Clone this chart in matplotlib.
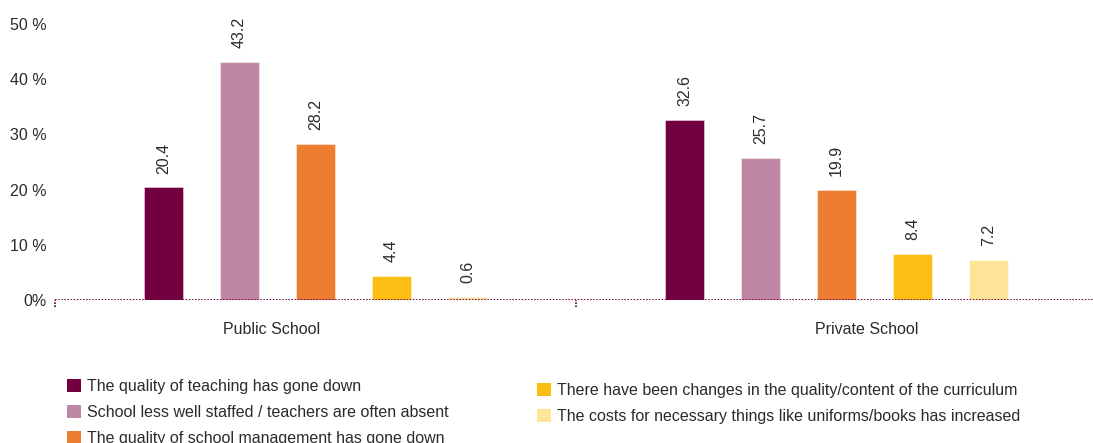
import matplotlib
matplotlib.use('Agg')
import matplotlib.pyplot as plt
import numpy as np
from matplotlib.patches import Patch

plt.rcParams['font.family'] = ['Liberation Sans', 'DejaVu Sans']

groups = ['Public School', 'Private School']
reasons = [
    'The quality of teaching has gone down',
    'School less well staffed / teachers are often absent',
    'The quality of school management has gone down',
    'There have been changes in the quality/content of the curriculum',
    'The costs for necessary things like uniforms/books has increased',
]
public_vals = [20.4, 43.2, 28.2, 4.4, 0.6]
private_vals = [32.6, 25.7, 19.9, 8.4, 7.2]
colors = ['#720041', '#C087A4', '#EC7D31', '#FDBE14', '#FEE497']
yticks = [0, 10, 20, 30, 40, 50]
ytick_labels = ['0%', '10 %', '20 %', '30 %', '40 %', '50 %']

txt = '#2b2b2b'
line_col = '#7A0A4A'

fig = plt.figure(figsize=(10.93, 4.43), dpi=100)
ax = fig.add_axes([55 / 1093, 143 / 443, 1038 / 1093, 276 / 443])

values = np.array([public_vals, private_vals])
step = 76 / 521
width = 39 / 521
centers = np.arange(len(groups))

for i, (reason, col) in enumerate(zip(reasons, colors)):
    xs = centers + (i - 2) * step
    bars = ax.bar(xs, values[:, i], width=width, color=col,
                  edgecolor=(1, 1, 1, 0.5), linewidth=0.6, label=reason, zorder=2)
    for b, v in zip(bars, values[:, i]):
        ax.annotate(f'{v:.1f}', (b.get_x() + b.get_width() / 2, v),
                    xytext=(0, 10), textcoords='offset points',
                    ha='center', va='bottom', rotation=90,
                    fontsize=11.5, color=txt)

ax.set_xlim(-0.5, -0.5 + 1038 / 521)
ax.set_ylim(0, 50)
# dotted baseline and group separators
ax.axhline(0, color=line_col, ls=(0, (0.8, 0.8)), lw=1.4, zorder=3)
ax.vlines([-0.5, 0.5, 1.5], -1.2, 0, colors=line_col, linestyles=(0, (0.8, 0.8)),
          lw=1.4, clip_on=False)

for s in ax.spines.values():
    s.set_visible(False)

ax.set_yticks(yticks)
ax.set_yticklabels(ytick_labels)
ax.tick_params(axis='y', length=0, pad=6, labelsize=11.5, labelcolor=txt)
ax.set_xticks([-0.085, 1.058])
ax.set_xticklabels(groups)
ax.tick_params(axis='x', length=0, pad=16, labelsize=11.5, labelcolor=txt)

handles = [Patch(facecolor=c, edgecolor='none') for c in colors]
leg_kw = dict(frameon=False, fontsize=11.5, handlelength=0.85, handleheight=0.85,
              handletextpad=0.4, labelspacing=0.68, borderaxespad=0,
              borderpad=0, labelcolor=txt)
fig.legend(handles[:3], reasons[:3], loc='upper left',
           bbox_to_anchor=(67 / 1093, 1 - 379 / 443), **leg_kw)
fig.legend(handles[3:], reasons[3:], loc='upper left',
           bbox_to_anchor=(537 / 1093, 1 - 383 / 443), **leg_kw)

fig.savefig('out.png', dpi=100)
